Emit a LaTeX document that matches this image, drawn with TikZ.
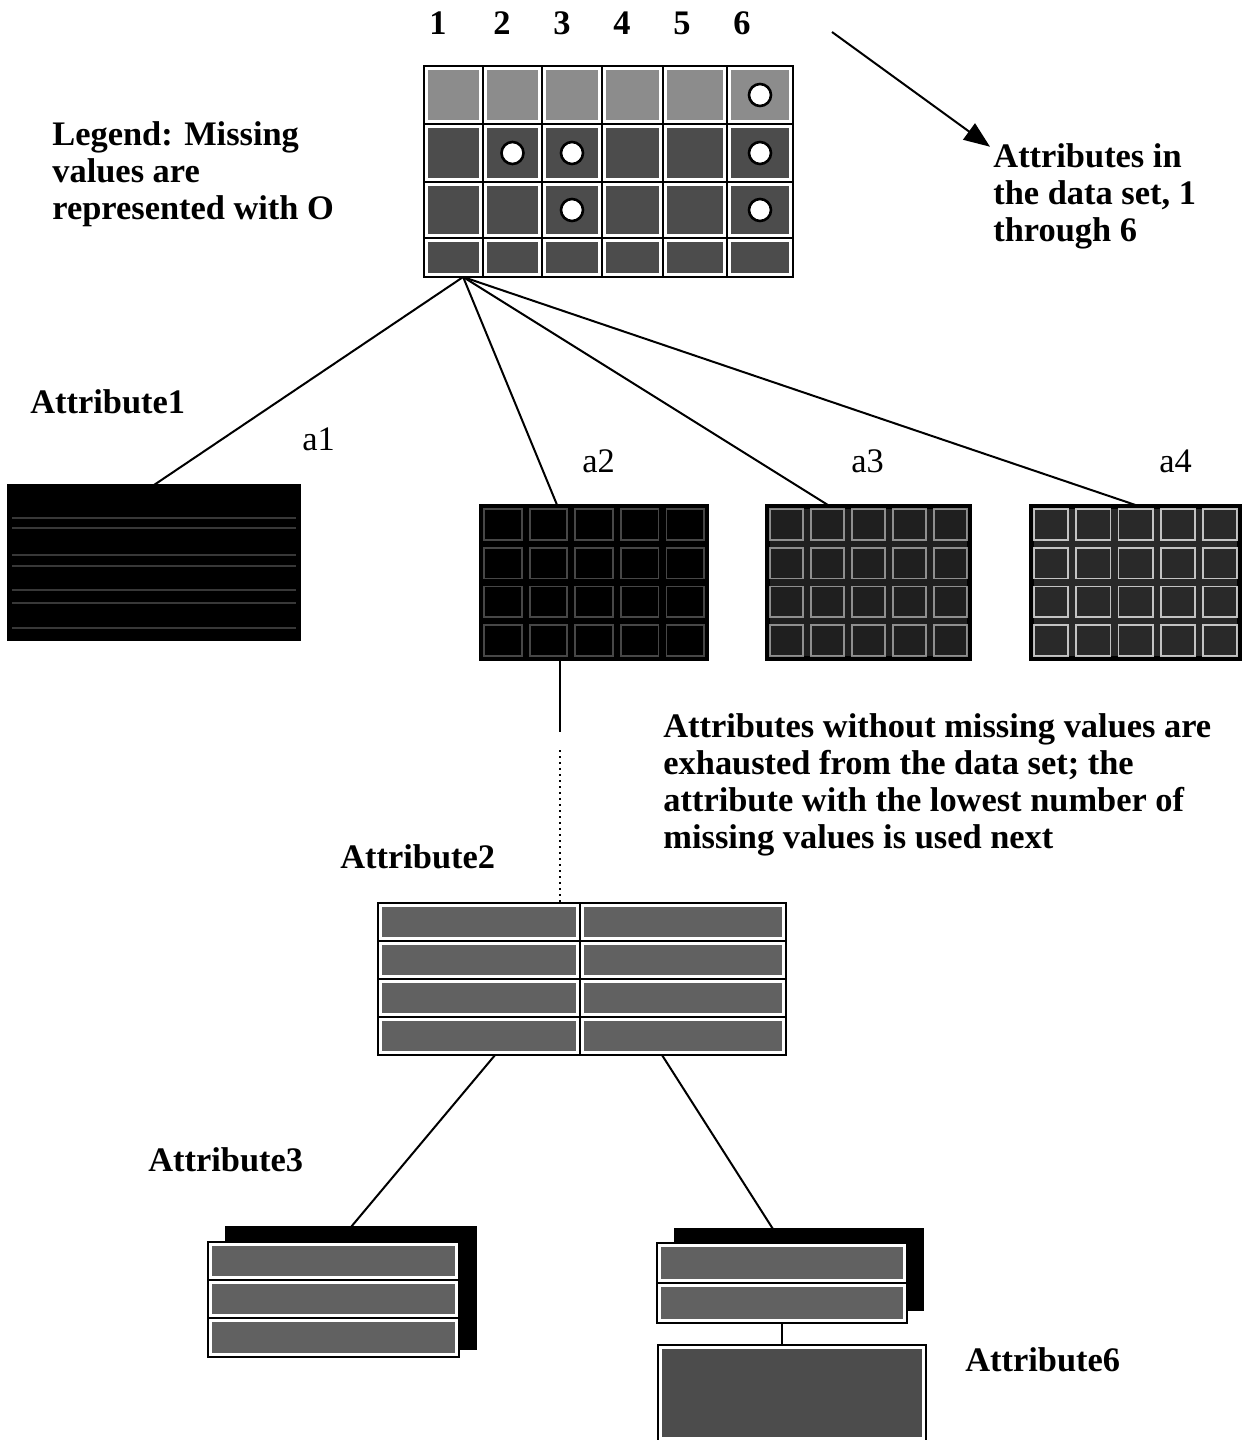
\documentclass[tikz,border=0pt]{standalone}
\usepackage{fontspec}
\setmainfont{Liberation Serif}
\usetikzlibrary{arrows.meta,calc}

% faint cell outlines inside a dark table: left, top, right, bottom, opacity
\newcommand\dkgrid[5]{%
  \foreach \i in {0,...,4}{%
    \foreach \j in {0,...,3}{%
      \pgfmathsetmacro\xa{#1+(#3-#1)*\i/5+4}%
      \pgfmathsetmacro\xb{#1+(#3-#1)*(\i+1)/5-4}%
      \pgfmathsetmacro\ya{#2+(#4-#2)*\j/4+4}%
      \pgfmathsetmacro\yb{#2+(#4-#2)*(\j+1)/4-4}%
      \draw[white, opacity=#5, line width=0.9pt] (\xa,\ya) rectangle (\xb,\yb);
    }%
  }%
}

\tikzset{
  lbl/.style={font=\fontsize{17.2}{18.5}\selectfont\bfseries, inner sep=0pt, anchor=base west, align=left},
  sub/.style={font=\fontsize{17.2}{18.5}\selectfont, inner sep=0pt, anchor=base west},
  colno/.style={font=\fontsize{17.2}{18.5}\selectfont\bfseries, inner sep=0pt, anchor=base},
  frame/.style={draw=black, line width=1.2pt, fill=white, inner sep=0pt, outer sep=0pt},
  darkframe/.style={draw=black, line width=1pt, fill=black, inner sep=0pt, outer sep=0pt},
  link/.style={line width=1pt},
  cellA/.style={fill=black!45},
  cellB/.style={fill=black!70},
  cellC/.style={fill=black!62},
  hole/.style={draw=black, line width=1.3pt, fill=white},
  sep/.style={line width=0.9pt},
}

\begin{document}
\begin{tikzpicture}[x=0.5pt, y=-0.5pt]
\useasboundingbox (0,0) rectangle (1243,1440);

% ---- column numbers ----
\node[colno] (n1) at (438,34) {1};
\node[colno] (n2) at (502,34) {2};
\node[colno] (n3) at (562,34) {3};
\node[colno] (n4) at (622,34) {4};
\node[colno] (n5) at (682,34) {5};
\node[colno] (n6) at (742,34) {6};

% ---- full data set table ----
\node[frame, minimum width=184.5pt, minimum height=105.5pt] (top) at (608.5,171.5) {};
\foreach \xa/\xb in {424/483,483/542,542/602,602/663,663/727,727/793}{
  \foreach \ya/\yb/\st in {66/124/cellA,124/182/cellB,182/238/cellB,238/277/cellB}{
    \fill[\st] (\xa+4,\ya+4) rectangle (\xb-4,\yb-4);
  }
}
\foreach \xx in {483,542,602,663,727}{ \draw[sep] (\xx,66) -- (\xx,277); }
\foreach \yy in {124,182,238}{ \draw[sep] (424,\yy) -- (793,\yy); }
\draw[line width=1.2pt] (top.north west) rectangle (top.south east);
% missing values
\foreach \cx/\cy in {760/95,512.5/153,572/153,760/153,572/210,760/210}{
  \draw[hole] (\cx,\cy) circle[radius=5.5pt];
}

% ---- texts of the upper part (base = last line) ----
\node[lbl] (legend) at (52,219) {Legend: Missing\\values are\\represented with O};
\node[lbl] (attrs) at (993,241) {Attributes in\\the data set, 1\\through 6};
\coordinate (arrstart) at (832,32);
\draw[link, -{Triangle[length=13pt,width=10pt]}] (arrstart) -- ($(attrs.north west)+(-3,4)$);

\node[lbl] (at1) at (30,413) {Attribute1};
\node[sub] (a1) at (302,450) {a1};
\node[sub] (a2) at (582,472) {a2};
\node[sub] (a3) at (851,472) {a3};
\node[sub] (a4) at (1159,472) {a4};

% ---- partitions on Attribute1 ----
\node[darkframe, minimum width=146pt, minimum height=77.5pt] (t1) at (154,562.5) {};
\foreach \yy in {518,528,555,566,590,603,628}{
  \draw[white, opacity=0.22, line width=0.8pt] (12,\yy) -- (296,\yy);
}
\node[darkframe, minimum width=114pt, minimum height=77.5pt] (t2) at (594,582.5) {};
\dkgrid{480}{505}{708}{660}{0.28}
\node[darkframe, minimum width=102.5pt, minimum height=77.5pt] (t3) at (868.5,582.5) {};
\fill[black!88] (770,509) rectangle (967,656);
\dkgrid{766}{505}{971}{660}{0.5}
\node[darkframe, minimum width=105.5pt, minimum height=77.5pt] (t4) at (1135.5,582.5) {};
\fill[black!84] (1034,509) rectangle (1237,656);
\dkgrid{1030}{505}{1241}{660}{0.72}

\coordinate (hub) at ($(top.south west)!0.106!(top.south east)$);
\draw[link] (hub) -- (t1.north);
\draw[link] (hub) -- ($(t2.north west)!0.338!(t2.north east)$);
\draw[link] (hub) -- ($(t3.north west)!0.302!(t3.north east)$);
\draw[link] (hub) -- (t4.north);

% ---- note ----
\node[lbl] (note) at (663,848) {Attributes without missing values are\\exhausted from the data set; the\\attribute with the lowest number of\\missing values is used next};

% ---- Attribute2 table ----
\node[lbl] (at2) at (340,868) {Attribute2};
\node[frame, minimum width=204pt, minimum height=76pt] (tb2) at (582,979) {};
\foreach \xa/\xb in {378/580,580/786}{
  \foreach \ya/\yb in {903/941,941/979,979/1017,1017/1055}{
    \fill[cellC] (\xa+4,\ya+4) rectangle (\xb-4,\yb-4);
  }
}
\draw[sep] (580,903) -- (580,1055);
\foreach \yy in {941,979,1017}{ \draw[sep] (378,\yy) -- (786,\yy); }
\draw[line width=1.2pt] (tb2.north west) rectangle (tb2.south east);

\coordinate (a2foot) at ($(t2.south west)!0.35!(t2.south east)$);
\draw[link] (a2foot) -- ++(0,72);
\draw[line width=1pt, dotted] ($(a2foot)+(0,90)$) -- (a2foot |- tb2.north);

% ---- Attribute3 partitions ----
\node[lbl] (at3) at (148,1171) {Attribute3};
\node[darkframe, minimum width=125pt, minimum height=61pt] (lb) at (351,1288) {};
\node[frame, minimum width=125.5pt, minimum height=57.5pt] (lf) at (333.5,1299.5) {};
\foreach \ya/\yb in {1242/1280,1280/1318,1318/1357}{
  \fill[cellC] (212,\ya+4) rectangle (455,\yb-4);
}
\foreach \yy in {1280,1318}{ \draw[sep] (208,\yy) -- (459,\yy); }
\draw[line width=1.2pt] (lf.north west) rectangle (lf.south east);

\node[darkframe, minimum width=124pt, minimum height=40.5pt] (rb) at (799,1269.5) {};
\node[frame, minimum width=125pt, minimum height=40pt] (rf) at (782,1283) {};
\foreach \ya/\yb in {1243/1283,1283/1323}{
  \fill[cellC] (661,\ya+4) rectangle (903,\yb-4);
}
\draw[sep] (657,1283) -- (907,1283);
\draw[line width=1.2pt] (rf.north west) rectangle (rf.south east);

\draw[link] ($(tb2.south west)!0.287!(tb2.south east)$) -- (lb.north);
\draw[link] ($(tb2.south west)!0.696!(tb2.south east)$) -- ($(rb.north west)!0.395!(rb.north east)$);

% ---- Attribute6 partition ----
\node[lbl] (at6) at (965,1371) {Attribute6};
\node[frame, minimum width=134pt, minimum height=48pt] (bt) at (792,1393) {};
\fill[black!70] (662,1349) rectangle (922,1437);
\draw[line width=1.2pt] (bt.north west) rectangle (bt.south east);
\draw[link] (rf.south) -- (rf.south |- bt.north);

\end{tikzpicture}
\end{document}
